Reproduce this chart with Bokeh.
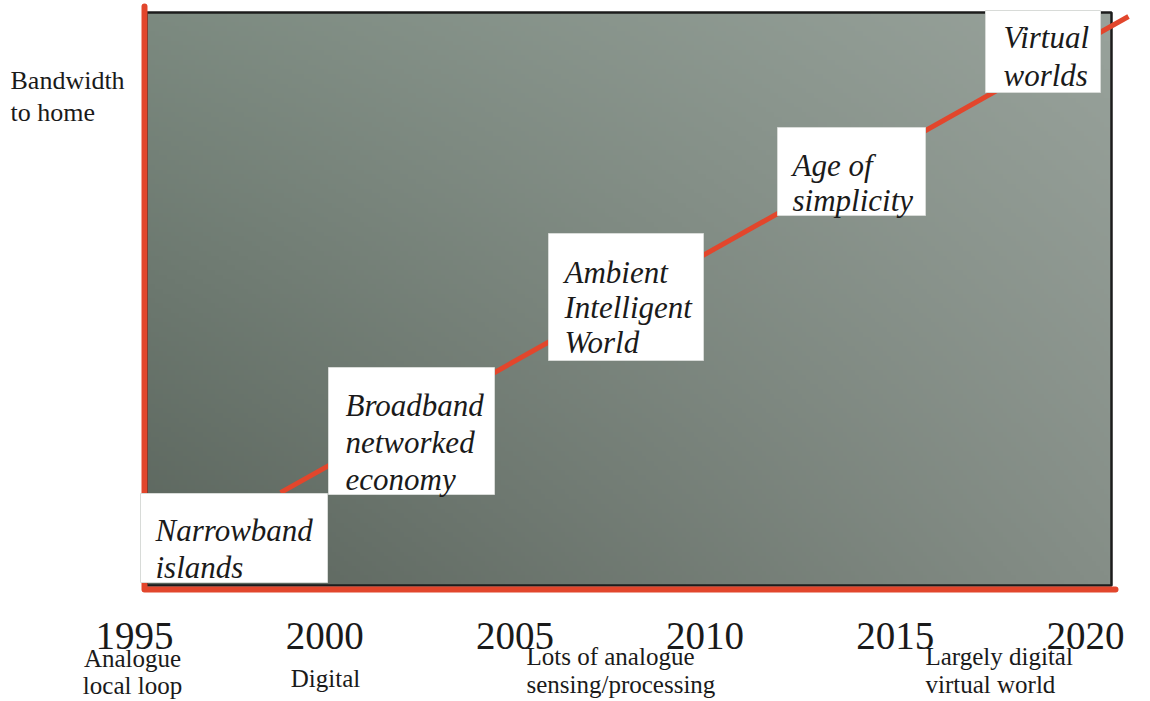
import numpy as np
from bokeh.plotting import figure
from bokeh.models import Range1d, ColumnDataSource
from bokeh.core.properties import value
from bokeh.embed import file_html
from bokeh.resources import INLINE

# ---------------- data ----------------
years = [1995, 2000, 2005, 2010, 2015, 2020]
year_labels = ["1995", "2000", "2005", "2010", "2015", "2020"]
year_notes = ["Analogue\nlocal loop", "Digital", "Lots of analogue\nsensing/processing",
              "Largely digital\nvirtual world"]
eras = ["Narrowband\nislands", "Broadband\nnetworked\neconomy", "Ambient\nIntelligent\nWorld",
        "Age of\nsimplicity", "Virtual\nworlds"]
trend_year = [1998.84, 2021.13]
trend_bandwidth = [16.8, 99.3]
y_title = "Bandwidth\nto home"

# ---------------- layout (page pixels -> data) ----------------
W, H = 1150, 701
OX, OY = 0, 0
def dx(X):  # page px -> year
    return 1995 + (X - 134) * 25.0 / (1085 - 134)
def dy(Y):  # page px -> bandwidth units
    return (589 - Y) * 100.0 / (589 - 12)

p = figure(width=W, height=H, x_range=Range1d(dx(OX), dx(OX + W)), y_range=Range1d(dy(OY + H), dy(OY)),
           output_backend="svg", toolbar_location=None, x_axis_location=None, y_axis_location=None,
           min_border=0, title=None, outline_line_color=None,
           background_fill_color="white", border_fill_color="white")
p.grid.visible = False

# gradient panel
ny, nx = 120, 240
u = np.linspace(0, 1, nx)[None, :, None]
v = np.linspace(0, 1, ny)[:, None, None]
bl = np.array([90, 100, 92]); tl = np.array([124, 138, 128])
tr = np.array([152, 162, 155]); br = np.array([133, 142, 135])
col = bl * (1 - u) * (1 - v) + br * u * (1 - v) + tl * (1 - u) * v + tr * u * v
img = np.empty((ny, nx), dtype=np.uint32)
view = img.view(dtype=np.uint8).reshape((ny, nx, 4))
view[..., :3] = col.astype(np.uint8)
view[..., 3] = 255
x_l, x_r, y_b, y_t = dx(146), dx(1111), dy(585), dy(12)
p.image_rgba(image=[img], x=x_l, y=y_b, dw=x_r - x_l, dh=y_t - y_b)
p.quad(left=[x_l], right=[x_r], bottom=[y_b], top=[y_t], fill_alpha=0,
       line_color="#1c1c1c", line_width=2.5)

RED = "#e2462c"
# axes (red)
p.line(x=[dx(144), dx(144), dx(1115)], y=[dy(6), dy(589), dy(589)], line_color=RED,
       line_width=6, line_join="round", line_cap="round")

# trend line
p.line(x=trend_year, y=trend_bandwidth, line_color=RED, line_width=5)

# era boxes (page px: left, top, right, bottom)
boxes = [(140, 493, 327, 582), (328, 367, 494, 494), (548, 233, 703, 360),
         (777, 127, 925, 215), (985, 10, 1100, 92)]
p.quad(left=[dx(b[0]) for b in boxes], right=[dx(b[2]) for b in boxes],
       top=[dy(b[1]) for b in boxes], bottom=[dy(b[3]) for b in boxes],
       fill_color="white", line_color="#d8dbd8", line_width=1)

# era text lines: (left x, first baseline, line gap)
era_pos = [(155, 530, 37), (345, 405, 37), (564, 272, 35), (792, 165, 35), (1003, 37, 38)]
ex, ey, et = [], [], []
for name, (X, Y0, gap) in zip(eras, era_pos):
    for i, line in enumerate(name.split("\n")):
        ex.append(dx(X)); ey.append(dy(Y0 + i * gap)); et.append(line)
p.text(x=ex, y=ey, text=et, text_font=value("Liberation Serif"), text_font_style="italic",
       text_font_size="31px", text_color="#1a1a1a", text_align="left", text_baseline="alphabetic")

# year labels
p.text(x=years, y=[dy(635)] * len(years), text=year_labels, text_font=value("Liberation Serif"),
       text_font_size="39px", text_color="#1a1a1a", text_align="center", text_baseline="alphabetic")

# notes under years: (x, first baseline, gap, align)
note_pos = [(132, 658, 27, "center"), (325, 678, 27, "center"),
            (526, 656, 28, "left"), (925, 656, 28, "left")]
nx_, ny_, nt, na = [], [], [], []
for note, (X, Y0, gap, al) in zip(year_notes, note_pos):
    for i, line in enumerate(note.split("\n")):
        nx_.append(dx(X)); ny_.append(dy(Y0 + i * gap)); nt.append(line); na.append(al)
src = ColumnDataSource(dict(x=nx_, y=ny_, t=nt, a=na))
p.text(x="x", y="y", text="t", text_align="a", source=src, text_font=value("Liberation Serif"),
       text_font_size="25px", text_color="#1a1a1a", text_baseline="alphabetic")

# y title
yl = y_title.split("\n")
p.text(x=[dx(10)] * len(yl), y=[dy(80), dy(112)], text=yl, text_font=value("Liberation Serif"),
       text_font_size="26px", text_color="#1a1a1a", text_align="left", text_baseline="alphabetic")

open("out.html", "w").write(file_html(p, INLINE))
